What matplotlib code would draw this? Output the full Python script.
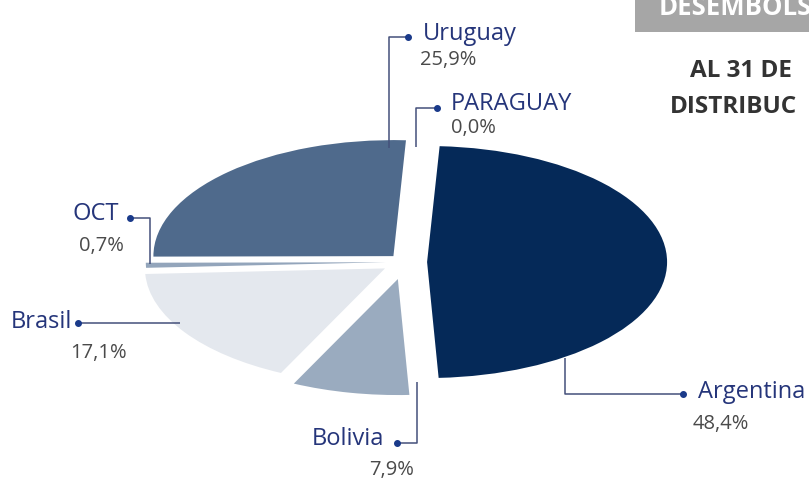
import matplotlib
matplotlib.use("Agg")
import matplotlib.pyplot as plt

# ---- data ----
countries = ["Argentina", "Bolivia", "Brasil", "OCT", "Uruguay", "PARAGUAY"]
shares = [48.4, 7.9, 17.1, 0.7, 25.9, 0.0]
pct_labels = ["48,4%", "7,9%", "17,1%", "0,7%", "25,9%", "0,0%"]
colors = ["#052958", "#9AABBF", "#E4E8EE", "#93A5BB", "#4F6A8C", "#4F6A8C"]
explode = [0.092, 0.15, 0.10, 0.08, 0.07, 0.0]

header_box = "DESEMBOLS"
title_lines = ["AL 31 DE", "DISTRIBUC"]

W, H = 809, 479
fig = plt.figure(figsize=(W / 100, H / 100), dpi=100)
plt.rcParams['font.family'] = ['Open Sans', 'DejaVu Sans']

# pie axes: squashed ellipse
cx, cy, rx, ry, lim = 405, 262, 240, 116, 1.3
ax = fig.add_axes([(cx - lim * rx) / W, (H - cy - lim * ry) / H,
                   2 * lim * rx / W, 2 * lim * ry / H])
ax.pie(shares, colors=colors, startangle=87, counterclock=False,
       explode=explode, wedgeprops=dict(linewidth=0))
ax.set_aspect('auto')
ax.set_xlim(-lim, lim)
ax.set_ylim(-lim, lim)
ax.axis('off')

# overlay in pixel coords
ov = fig.add_axes([0, 0, 1, 1], zorder=5)
ov.set_xlim(0, W)
ov.set_ylim(H, 0)
ov.axis('off')
ov.patch.set_alpha(0)

line_c = "#44507A"
dot_c = "#1A3A8A"
name_c = "#25357A"
pct_c = "#4A4A4A"

leaders = {
    "Uruguay": ([389, 389, 408], [148, 37, 37], (408, 37)),
    "PARAGUAY": ([416, 416, 437], [147, 108, 108], (437, 108)),
    "OCT": ([130, 150, 150], [218, 218, 264], (130, 218)),
    "Brasil": ([78, 180], [323, 323], (78, 323)),
    "Bolivia": ([417, 417, 397], [382, 443, 443], (397, 443)),
    "Argentina": ([565, 565, 683], [358, 394, 394], (683, 394)),
}
label_pos = {
    "Uruguay": ((423, 40), (420, 65)),
    "PARAGUAY": ((451, 110), (451, 133)),
    "OCT": ((73, 220), (79, 251)),
    "Brasil": ((11, 328), (70, 358)),
    "Bolivia": ((312, 445), (369, 475)),
    "Argentina": ((698, 398), (693, 429)),
}

for name, pct in zip(countries, pct_labels):
    xs, ys, dot = leaders[name]
    ov.plot(xs, ys, color=line_c, lw=1.1, solid_capstyle='butt')
    ov.plot([dot[0]], [dot[1]], 'o', color=dot_c, ms=4)
    (nx, ny), (px, py) = label_pos[name]
    ov.text(nx, ny, name, color=name_c, fontsize=17, va='baseline', ha='left')
    ov.text(px, py, pct, color=pct_c, fontsize=14.5, va='baseline', ha='left')

# top-right header
ov.add_patch(plt.Rectangle((635, -5), 200, 37, color="#A6A6A6", lw=0))
ov.text(659, 15, header_box, color="white", fontsize=18.5, fontweight='bold',
        va='baseline', ha='left')
ov.text(690, 77, title_lines[0], color="#333333", fontsize=17.5, fontweight='bold',
        va='baseline', ha='left')
ov.text(670, 113, title_lines[1], color="#333333", fontsize=17.5, fontweight='bold',
        va='baseline', ha='left')

fig.savefig("out.png", dpi=100)
